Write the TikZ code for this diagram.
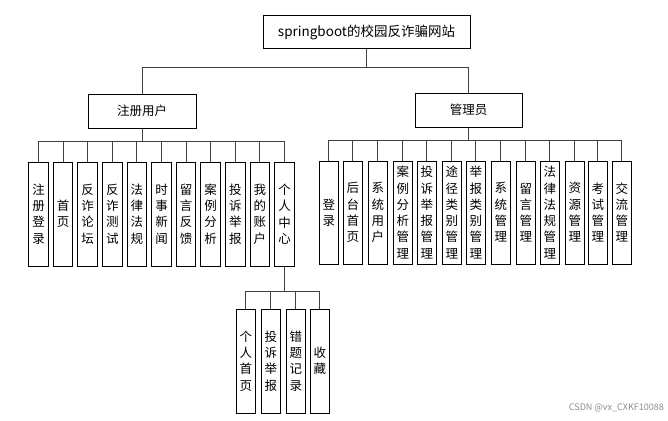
\documentclass[tikz,border=0pt]{standalone}
\usepackage{fontspec}
\setmainfont{Noto Sans CJK SC}
\begin{document}
\begin{tikzpicture}[x=1pt,y=-1pt,
  box/.style={draw=black,line width=1pt,fill=white,inner sep=0pt,font=\fontsize{12.5}{15}\selectfont},
  vbox/.style={box,minimum width=19.5pt,minimum height=104pt,align=center,font=\fontsize{12.5}{16.3}\selectfont},
  conn/.style={draw=black!75,line width=1pt}]
\useasboundingbox (0,0) rectangle (668,420);
\node[box,minimum width=207pt,minimum height=33pt,font=\fontsize{13.5}{16}\selectfont] (root) at (366.5,32.5) {springboot的校园反诈骗网站};
\node[box,minimum width=108pt,minimum height=34pt] (user) at (142,111) {注册用户};
\node[box,minimum width=107pt,minimum height=34pt] (admin) at (468.5,110) {管理员};
\draw[conn] (root.south) -- (root.south |- 0,67) -| (user.north);
\draw[conn] (root.south) -- (root.south |- 0,67) -| (admin.north);
% user children
\foreach \t [count=\i from 0] in {注\\册\\登\\录,首\\页,反\\诈\\论\\坛,反\\诈\\测\\试,法\\律\\法\\规,时\\事\\新\\闻,留\\言\\反\\馈,案\\例\\分\\析,投\\诉\\举\\报,我\\的\\账\\户,个\\人\\中\\心}{
  \node[vbox] (u\i) at (38.5+24.6*\i,214) {\t};
  \draw[conn] (user.south) -- (user.south |- 0,141) -| (u\i.north);
}
% admin children
\foreach \t/\x [count=\i from 0] in {登\\录/328.75,后\\台\\首\\页/352.75,系\\统\\用\\户/377.75,案\\例\\分\\析\\管\\理/402.75,投\\诉\\举\\报\\管\\理/426.75,途\\径\\类\\别\\管\\理/451.75,举\\报\\类\\别\\管\\理/475.75,系\\统\\管\\理/500.75,留\\言\\管\\理/525.75,法\\律\\法\\规\\管\\理/549.75,资\\源\\管\\理/574.75,考\\试\\管\\理/597.75,交\\流\\管\\理/621.75}{
  \node[vbox,minimum height=103pt] (a\i) at (\x,212.5) {\t};
  \draw[conn] (admin.south) -- (admin.south |- 0,140) -| (a\i.north);
}
% personal center children
\foreach \t/\x [count=\i from 0] in {个\\人\\首\\页/245.75,投\\诉\\举\\报/270.75,错\\题\\记\\录/295.75,收\\藏/319.75}{
  \node[vbox] (p\i) at (\x,361) {\t};
  \draw[conn] (u10.south) -- (u10.south |- 0,291) -| (p\i.north);
}
\node[text=black!45,font=\fontsize{9}{10}\selectfont,anchor=east,inner sep=0pt] (wm) at (664,408) {CSDN @vx\_CXKF10088};
\end{tikzpicture}
\end{document}
